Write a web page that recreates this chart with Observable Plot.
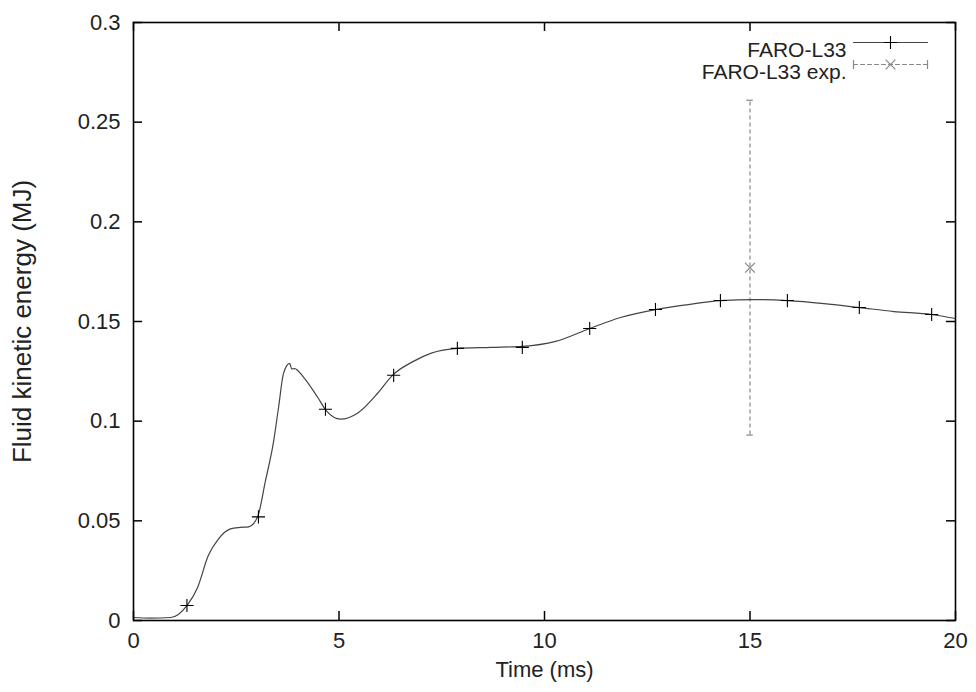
<!DOCTYPE html>
<html><head><meta charset="utf-8">
<script src="https://cdn.jsdelivr.net/npm/d3@7"></script>
<script src="https://cdn.jsdelivr.net/npm/@observablehq/plot@0.6"></script>
<style>body{margin:0;background:#fff}</style>
</head><body><div id="chart"></div>
<script>
// Simulated curve FARO-L33 (time in ms, fluid kinetic energy in MJ)
const time = [0, 0.4, 0.9, 1.3, 1.56, 1.82, 2.07, 2.36, 2.6, 2.8, 3.02, 3.21, 3.41, 3.53, 3.65, 3.8, 3.85, 3.92, 4.14, 4.48, 4.7, 5.04, 5.45, 5.94, 6.3, 6.81, 7.23, 7.88, 8.7, 9.46, 10.27, 11.1, 11.85, 12.7, 13.5, 14.28, 15.1, 15.91, 16.8, 17.66, 18.5, 19.42, 20];
const energy = [0.0015, 0.0012, 0.0015, 0.0075, 0.0166, 0.0326, 0.041, 0.046, 0.0467, 0.047, 0.052, 0.070, 0.090, 0.107, 0.124, 0.129, 0.1262, 0.1264, 0.122, 0.112, 0.105, 0.101, 0.104, 0.114, 0.123, 0.130, 0.134, 0.1365, 0.137, 0.1375, 0.140, 0.1465, 0.152, 0.156, 0.1585, 0.1605, 0.161, 0.1605, 0.159, 0.157, 0.155, 0.1535, 0.1515];
// Point markers on the simulated curve
const markerTime = [1.3, 3.04, 4.67, 6.33, 7.88, 9.46, 11.1, 12.7, 14.28, 15.91, 17.66, 19.42];
const markerEnergy = [0.0075, 0.052, 0.106, 0.123, 0.1365, 0.137, 0.1465, 0.156, 0.1605, 0.1605, 0.157, 0.1535];
// Experimental value with error bar
const expTime = [15];
const expEnergy = [0.177];
const expLow = [0.093];
const expHigh = [0.261];
// Axes
const xTicks = [0, 5, 10, 15, 20];
const yTicks = [0, 0.05, 0.1, 0.15, 0.2, 0.25, 0.3];
const yTickLabels = ["0", "0.05", "0.1", "0.15", "0.2", "0.25", "0.3"];
const xLabel = "Time (ms)";
const yLabel = "Fluid kinetic energy (MJ)";
const legendLabels = ["FARO-L33", "FARO-L33 exp."];

const W = 976, H = 692, mL = 133, mR = 21, mT = 22, mB = 72;
const innerW = W - mL - mR, innerH = H - mT - mB;
const tickLen = 9;
const capHalf = 0.08;
const lineShape = {draw(ctx, l) { ctx.moveTo(0, 0); ctx.lineTo(0, -l); }};
const font = "'Liberation Sans', Arial, Helvetica, sans-serif";

const chart = Plot.plot({
  width: W, height: H,
  marginLeft: mL, marginRight: mR, marginTop: mT, marginBottom: mB,
  style: {fontFamily: font, fontSize: "22px", color: "#222", background: "#fff"},
  x: {domain: [0, 20]},
  y: {domain: [0, 0.3]},
  marks: [
    Plot.axisX(xTicks, {tickSize: 0, tickPadding: 12, tickFormat: d => String(d), label: null, fontSize: 22}),
    Plot.axisY(yTicks, {tickSize: 0, tickPadding: 13, tickFormat: d => yTickLabels[yTicks.indexOf(d)], label: null, fontSize: 22}),
    // inward ticks on all four sides
    Plot.ruleX(xTicks, {x: d => d, insetTop: innerH - tickLen, stroke: "#000", strokeWidth: 1.5}),
    Plot.ruleX(xTicks, {x: d => d, insetBottom: innerH - tickLen, stroke: "#000", strokeWidth: 1.5}),
    Plot.ruleY(yTicks, {y: d => d, insetLeft: innerW - tickLen, stroke: "#000", strokeWidth: 1.5}),
    Plot.ruleY(yTicks, {y: d => d, insetRight: innerW - tickLen, stroke: "#000", strokeWidth: 1.5}),
    // experimental error bar
    Plot.ruleX(expTime, {x: expTime, y1: expLow, y2: expHigh, stroke: "#888", strokeWidth: 1.2, strokeDasharray: "4,3"}),
    Plot.ruleY(expTime, {y: expHigh, x1: expTime.map(t => t - capHalf), x2: expTime.map(t => t + capHalf), stroke: "#888", strokeWidth: 1.2}),
    Plot.ruleY(expTime, {y: expLow, x1: expTime.map(t => t - capHalf), x2: expTime.map(t => t + capHalf), stroke: "#888", strokeWidth: 1.2}),
    Plot.dot(expTime, {x: expTime, y: expEnergy, symbol: "times", r: 4.5, stroke: "#888", strokeWidth: 1.2}),
    // simulated curve
    Plot.line(time, {x: time, y: energy, curve: "monotone-x", stroke: "#444", strokeWidth: 1.2}),
    Plot.dot(markerTime, {x: markerTime, y: markerEnergy, symbol: "plus", r: 4.3, stroke: "#000", strokeWidth: 1.1}),
    // axis titles
    Plot.text([xLabel], {frameAnchor: "bottom", dy: 56, text: d => d, fontSize: 22, fill: "#222"}),
    Plot.text([yLabel], {frameAnchor: "left", dx: -111, rotate: -90, textAnchor: "middle", text: d => d, fontSize: 26, fill: "#222"}),
    // legend
    Plot.text([legendLabels[0]], {frameAnchor: "top-right", dx: -109, dy: 20, textAnchor: "end", text: d => d, fontSize: 21, fill: "#222"}),
    Plot.text([legendLabels[1]], {frameAnchor: "top-right", dx: -109, dy: 42, textAnchor: "end", text: d => d, fontSize: 21, fill: "#222"}),
    Plot.vector([legendLabels[0]], {frameAnchor: "top-right", dx: -102, dy: 20, length: 74, rotate: 90, anchor: "start", shape: lineShape, stroke: "#444", strokeWidth: 1.2}),
    Plot.dot([legendLabels[0]], {frameAnchor: "top-right", dx: -65, dy: 20, symbol: "plus", r: 4.3, stroke: "#000", strokeWidth: 1.1}),
    Plot.vector([legendLabels[1]], {frameAnchor: "top-right", dx: -102, dy: 42, length: 74, rotate: 90, anchor: "start", shape: lineShape, stroke: "#888", strokeWidth: 1.2, strokeDasharray: "4,3"}),
    Plot.vector([legendLabels[1]], {frameAnchor: "top-right", dx: -102, dy: 42, length: 8, rotate: 0, anchor: "middle", shape: lineShape, stroke: "#888", strokeWidth: 1.2}),
    Plot.vector([legendLabels[1]], {frameAnchor: "top-right", dx: -28, dy: 42, length: 8, rotate: 0, anchor: "middle", shape: lineShape, stroke: "#888", strokeWidth: 1.2}),
    Plot.dot([legendLabels[1]], {frameAnchor: "top-right", dx: -65, dy: 42, symbol: "times", r: 4.5, stroke: "#888", strokeWidth: 1.2}),
    Plot.frame({stroke: "#000", strokeWidth: 1.6})
  ]
});
document.getElementById("chart").appendChild(chart);
</script>
</body></html>
